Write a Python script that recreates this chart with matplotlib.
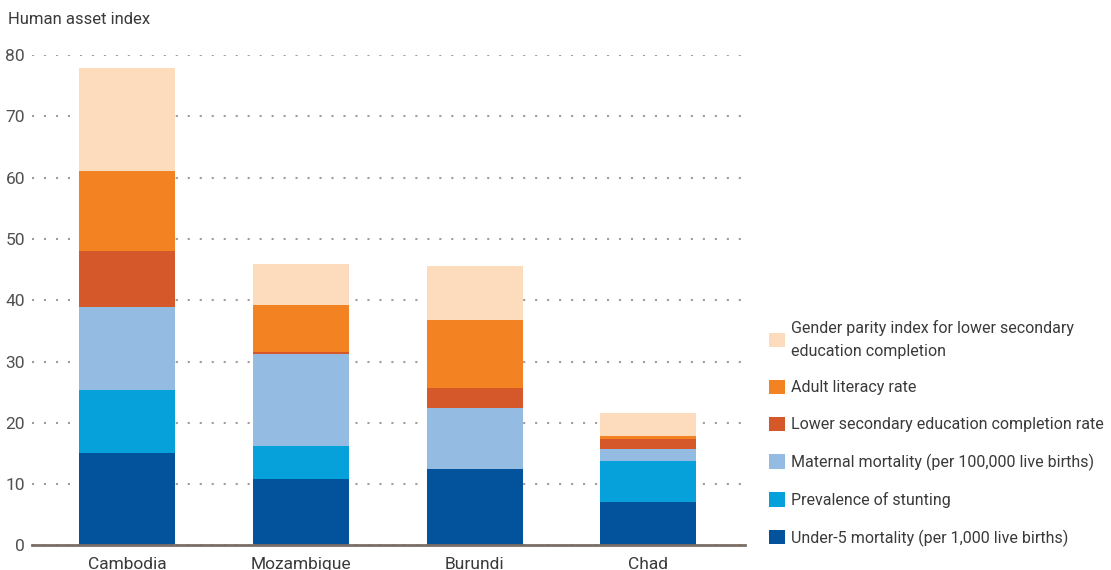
import matplotlib
matplotlib.use("Agg")
from matplotlib import pyplot as plt
from matplotlib.patches import Patch

plt.rcParams['font.family'] = ['Roboto', 'DejaVu Sans']

countries = ["Cambodia", "Mozambique", "Burundi", "Chad"]

# components of the index, bottom to top
under5 = [15.1, 10.9, 12.5, 7.1]
stunting = [10.3, 5.4, 0.0, 6.7]
maternal = [13.5, 15.0, 9.9, 1.9]
lower_sec = [9.1, 0.3, 3.3, 1.7]
literacy = [13.1, 7.6, 11.1, 0.5]
gender = [16.8, 6.7, 8.8, 3.7]

series = [
    ("Under-5 mortality (per 1,000 live births)", under5, "#02529C"),
    ("Prevalence of stunting", stunting, "#06A0DA"),
    ("Maternal mortality (per 100,000 live births)", maternal, "#94BCE3"),
    ("Lower secondary education completion rate", lower_sec, "#D4582A"),
    ("Adult literacy rate", literacy, "#F38322"),
    ("Gender parity index for lower secondary\neducation completion", gender, "#FDDBBD"),
]

fig = plt.figure(figsize=(11.11, 5.70), dpi=100)
ax = fig.add_axes([0.0288, 0.043, 0.642, 0.8605])

x = list(range(len(countries)))
bottom = [0.0] * len(countries)
handles = []
for label, vals, col in series:
    ax.bar(x, vals, width=0.553, bottom=bottom, color=col, zorder=3, linewidth=0)
    bottom = [b + v for b, v in zip(bottom, vals)]
    handles.append(Patch(facecolor=col, label=label))

ax.set_xlim(-0.55, 3.56)
ax.set_ylim(0, 80)
ax.set_yticks(range(0, 81, 10))
ax.set_xticks(x)
ax.set_xticklabels(countries)
ax.yaxis.grid(True, linestyle=(0, (1, 4.75)), linewidth=1.5, color="#A39B94", zorder=0)
ax.set_axisbelow(True)

for s in ["top", "right", "left"]:
    ax.spines[s].set_visible(False)
ax.spines["bottom"].set_color("#7A6E66")
ax.spines["bottom"].set_linewidth(2)
ax.spines["bottom"].set_zorder(4)

ax.tick_params(axis="y", length=0, pad=5, labelsize=12.5, labelcolor="#505050")
ax.tick_params(axis="x", length=0, pad=8, labelsize=12.5, labelcolor="#3a3a3a")

fig.text(0.0072, 0.965, "Human asset index", fontsize=12, color="#3a3a3a", va="center")

leg = fig.legend(handles=handles[::-1], loc="lower left", bbox_to_anchor=(0.6865, 0.030),
                 frameon=False, fontsize=11.5, handlelength=1.0, handleheight=1.0,
                 handletextpad=0.4, labelspacing=1.33, borderaxespad=0)
for t in leg.get_texts():
    t.set_color("#3a3a3a")
    t.set_linespacing(1.6)

fig.savefig("out.png", dpi=100)
